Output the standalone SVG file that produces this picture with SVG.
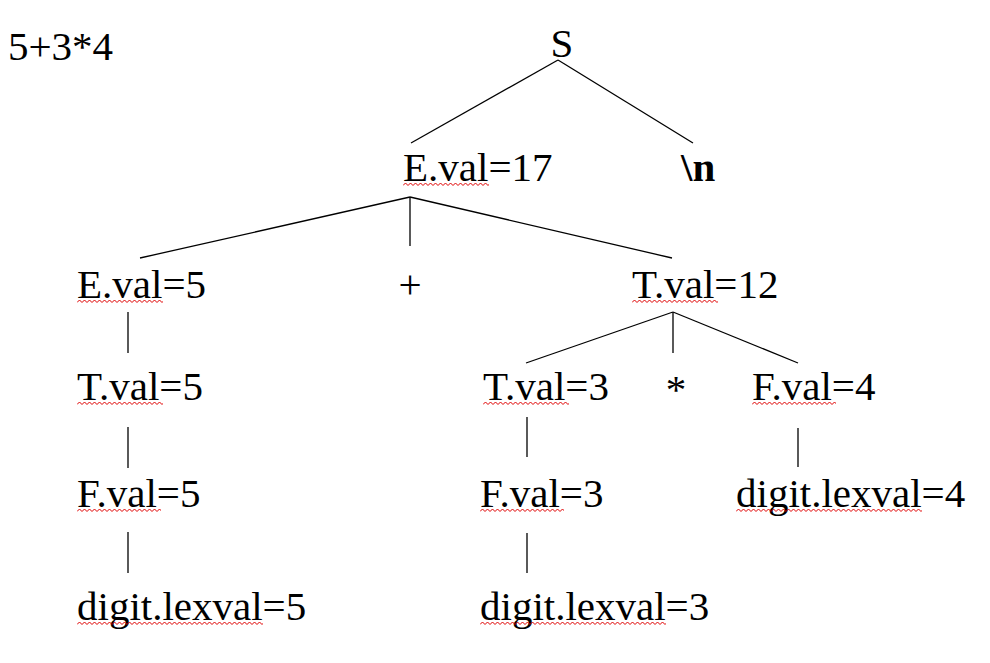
<svg xmlns="http://www.w3.org/2000/svg" xmlns:xlink="http://www.w3.org/1999/xlink" width="990" height="663" viewBox="0 0 990 663">
<style>
text{font-family:"Liberation Serif","Times New Roman",serif;font-size:41px;fill:#000}
.b{font-weight:bold}
.m{text-anchor:middle}
#edges line{stroke:#000;stroke-width:1.3;fill:none}
.wv{fill:none;stroke:#e00000;stroke-width:1}
</style>
<defs>
<path id="wv" class="wv" d="M0 3.5 l2.5 -2.5 l2.5 2.5 l2.5 -2.5 l2.5 2.5 l2.5 -2.5 l2.5 2.5 l2.5 -2.5 l2.5 2.5 l2.5 -2.5 l2.5 2.5 l2.5 -2.5 l2.5 2.5 l2.5 -2.5 l2.5 2.5 l2.5 -2.5 l2.5 2.5 l2.5 -2.5 l2.5 2.5 l2.5 -2.5 l2.5 2.5 l2.5 -2.5 l2.5 2.5 l2.5 -2.5 l2.5 2.5 l2.5 -2.5 l2.5 2.5 l2.5 -2.5 l2.5 2.5 l2.5 -2.5 l2.5 2.5 l2.5 -2.5 l2.5 2.5 l2.5 -2.5 l2.5 2.5 l2.5 -2.5 l2.5 2.5 l2.5 -2.5 l2.5 2.5 l2.5 -2.5 l2.5 2.5 l2.5 -2.5 l2.5 2.5 l2.5 -2.5 l2.5 2.5 l2.5 -2.5 l2.5 2.5 l2.5 -2.5 l2.5 2.5 l2.5 -2.5 l2.5 2.5 l2.5 -2.5 l2.5 2.5 l2.5 -2.5 l2.5 2.5 l2.5 -2.5 l2.5 2.5 l2.5 -2.5 l2.5 2.5 l2.5 -2.5 l2.5 2.5 l2.5 -2.5 l2.5 2.5 l2.5 -2.5 l2.5 2.5 l2.5 -2.5 l2.5 2.5 l2.5 -2.5 l2.5 2.5 l2.5 -2.5 l2.5 2.5 l2.5 -2.5 l2.5 2.5 l2.5 -2.5 l2.5 2.5 l2.5 -2.5 l2.5 2.5 l2.5 -2.5 l2.5 2.5 l2.5 -2.5 l2.5 2.5 l2.5 -2.5 l2.5 2.5 l2.5 -2.5 l2.5 2.5 l2.5 -2.5 l2.5 2.5 l2.5 -2.5 l2.5 2.5 l2.5 -2.5 l2.5 2.5 l2.5 -2.5 l2.5 2.5 l2.5 -2.5 l2.5 2.5 l2.5 -2.5 l2.5 2.5 l2.5 -2.5 l2.5 2.5 l2.5 -2.5 l2.5 2.5 l2.5 -2.5 l2.5 2.5 l2.5 -2.5 l2.5 2.5 l2.5 -2.5 l2.5 2.5 l2.5 -2.5 l2.5 2.5"/>
</defs>

<g id="edges">
<line x1="558" y1="60" x2="411" y2="143"/>
<line x1="558" y1="60" x2="693" y2="143"/>
<line x1="410" y1="197" x2="140" y2="258"/>
<line x1="410" y1="197" x2="410" y2="246"/>
<line x1="410" y1="197" x2="672" y2="258"/>
<line x1="128" y1="312" x2="128" y2="353"/>
<line x1="128" y1="427" x2="128" y2="468"/>
<line x1="128" y1="532" x2="128" y2="573"/>
<line x1="673" y1="312" x2="526" y2="363"/>
<line x1="673" y1="312" x2="673" y2="353"/>
<line x1="673" y1="312" x2="798" y2="363"/>
<line x1="527" y1="417" x2="527" y2="457"/>
<line x1="527" y1="533" x2="527" y2="573"/>
<line x1="798" y1="428" x2="798" y2="467"/>
</g>

<g id="expr"><text x="8" y="60">5+3*4</text></g>

<g id="n-S"><text x="562" y="57" class="m">S</text></g>

<g id="n-E17"><text x="403" y="181">E.val=17</text>
<svg x="403" y="182" width="86" height="5"><use xlink:href="#wv"/></svg></g>

<g id="n-newline"><text x="681" y="181" class="b">\n</text></g>

<g id="n-E5"><text x="77" y="298">E.val=5</text>
<svg x="77" y="299" width="86" height="5"><use xlink:href="#wv"/></svg></g>

<g id="n-plus"><text x="410" y="298" class="m">+</text></g>

<g id="n-T12"><text x="632" y="298">T.val=12</text>
<svg x="632" y="299" width="86" height="5"><use xlink:href="#wv"/></svg></g>

<g id="n-T5"><text x="77" y="400">T.val=5</text>
<svg x="77" y="401" width="86" height="5"><use xlink:href="#wv"/></svg></g>

<g id="n-T3"><text x="483" y="400">T.val=3</text>
<svg x="483" y="401" width="86" height="5"><use xlink:href="#wv"/></svg></g>

<g id="n-star"><text x="676" y="403" class="m">*</text></g>

<g id="n-F4"><text x="752" y="400">F.val=4</text>
<svg x="752" y="401" width="84" height="5"><use xlink:href="#wv"/></svg></g>

<g id="n-F5"><text x="77" y="507">F.val=5</text>
<svg x="77" y="508" width="84" height="5"><use xlink:href="#wv"/></svg></g>

<g id="n-F3"><text x="480" y="507">F.val=3</text>
<svg x="480" y="508" width="84" height="5"><use xlink:href="#wv"/></svg></g>

<g id="n-D4"><text x="736" y="507">digit.lexval=4</text>
<svg x="736" y="508" width="186" height="5"><use xlink:href="#wv"/></svg></g>

<g id="n-D5"><text x="77" y="620">digit.lexval=5</text>
<svg x="77" y="621" width="186" height="5"><use xlink:href="#wv"/></svg></g>

<g id="n-D3"><text x="480" y="620">digit.lexval=3</text>
<svg x="480" y="621" width="186" height="5"><use xlink:href="#wv"/></svg></g>
</svg>
